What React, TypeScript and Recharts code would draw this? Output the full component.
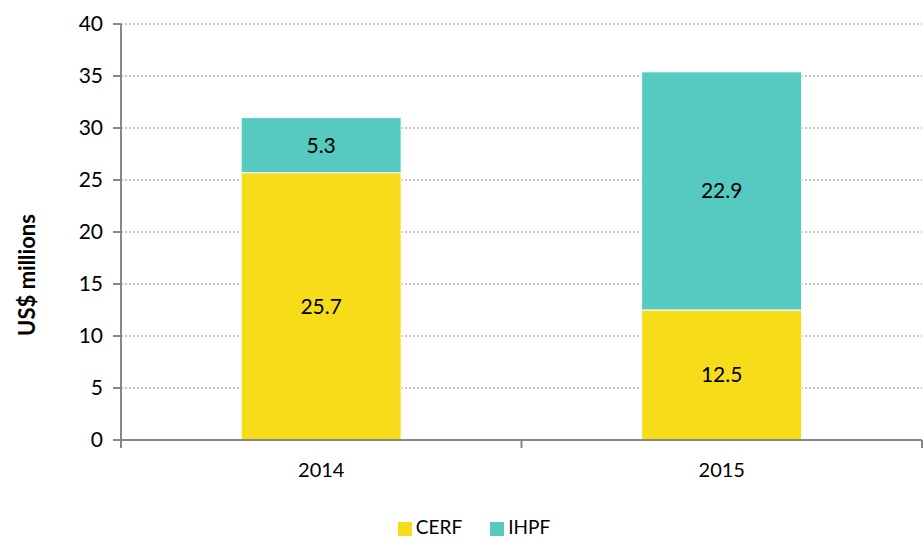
import React from 'react';
import { BarChart, Bar, XAxis, YAxis, CartesianGrid, Legend, LabelList } from 'recharts';

const years = ['2014', '2015'];
const cerf = [25.7, 12.5];
const ihpf = [5.3, 22.9];
const yTicks = [0, 5, 10, 15, 20, 25, 30, 35, 40];

const data = years.map((year, i) => ({ year, CERF: cerf[i], IHPF: ihpf[i] }));

const FONT = 'Lato, "Open Sans", sans-serif';
const CHART_W = 923;
const Y_AXIS_W = 121;
const RIGHT_M = 1;
const HALF_BAND = (CHART_W - Y_AXIS_W - RIGHT_M) / years.length / 2;

const AxisTitle = () => (
  <text
    x={35}
    y={275}
    transform="rotate(-90, 35, 275)"
    textAnchor="middle"
    fontFamily={FONT}
    fontSize={22}
    fontWeight="bold"
    fill="#000"
  >
    US$ millions
  </text>
);

// category ticks sit on the band edges, like Excel
const YearTick = (props: any) => {
  const { x, y, payload, index } = props;
  const axisY = y - 15;
  return (
    <g>
      <line x1={x - HALF_BAND} y1={axisY} x2={x - HALF_BAND} y2={axisY + 8} stroke="#878787" strokeWidth={2} />
      {index === years.length - 1 && (
        <line x1={x + HALF_BAND} y1={axisY} x2={x + HALF_BAND} y2={axisY + 8} stroke="#878787" strokeWidth={2} />
      )}
      <text x={x} y={axisY + 37} textAnchor="middle" fill="#000" fontSize={20} fontFamily={FONT}>
        {payload.value}
      </text>
    </g>
  );
};

const App: React.FC = () => {
  return (
    <div style={{ position: 'absolute', left: 0, top: 0, width: 923, height: 539, background: '#fff' }}>
      <BarChart
        width={CHART_W}
        height={539}
        data={data}
        barCategoryGap="30%"
        margin={{ top: 24, right: RIGHT_M, left: 0, bottom: 0 }}
      >
        <CartesianGrid vertical={false} stroke="#8c8c8c" strokeDasharray="2 2" />
        <XAxis
          dataKey="year"
          stroke="#878787"
          strokeWidth={2}
          tickLine={false}
          tickSize={8}
          tickMargin={7}
          tick={<YearTick />}
          height={75}
        />
        <YAxis
          domain={[0, 40]}
          ticks={yTicks}
          width={Y_AXIS_W}
          stroke="#878787"
          strokeWidth={2}
          tickSize={8}
          tickMargin={10}
          tick={{ fill: '#000', fontSize: 21, fontFamily: FONT }}
          label={<AxisTitle />}
        />
        <Legend
          verticalAlign="bottom"
          iconType="square"
          iconSize={14}
          height={24}
          wrapperStyle={{ fontFamily: FONT, fontSize: 19, color: '#000', paddingLeft: 27 }}
          formatter={(value) => <span style={{ color: '#000', marginRight: 18 }}>{value}</span>}
        />
        <Bar dataKey="CERF" stackId="a" fill="#F7DC1A" stroke="#ffffff" strokeWidth={1} isAnimationActive={false}>
          <LabelList dataKey="CERF" position="center" fill="#000" fontSize={21} fontFamily={FONT} />
        </Bar>
        <Bar dataKey="IHPF" stackId="a" fill="#56CAC0" stroke="#ffffff" strokeWidth={1} isAnimationActive={false}>
          <LabelList dataKey="IHPF" position="center" fill="#000" fontSize={21} fontFamily={FONT} />
        </Bar>
      </BarChart>
    </div>
  );
};

export default App;
